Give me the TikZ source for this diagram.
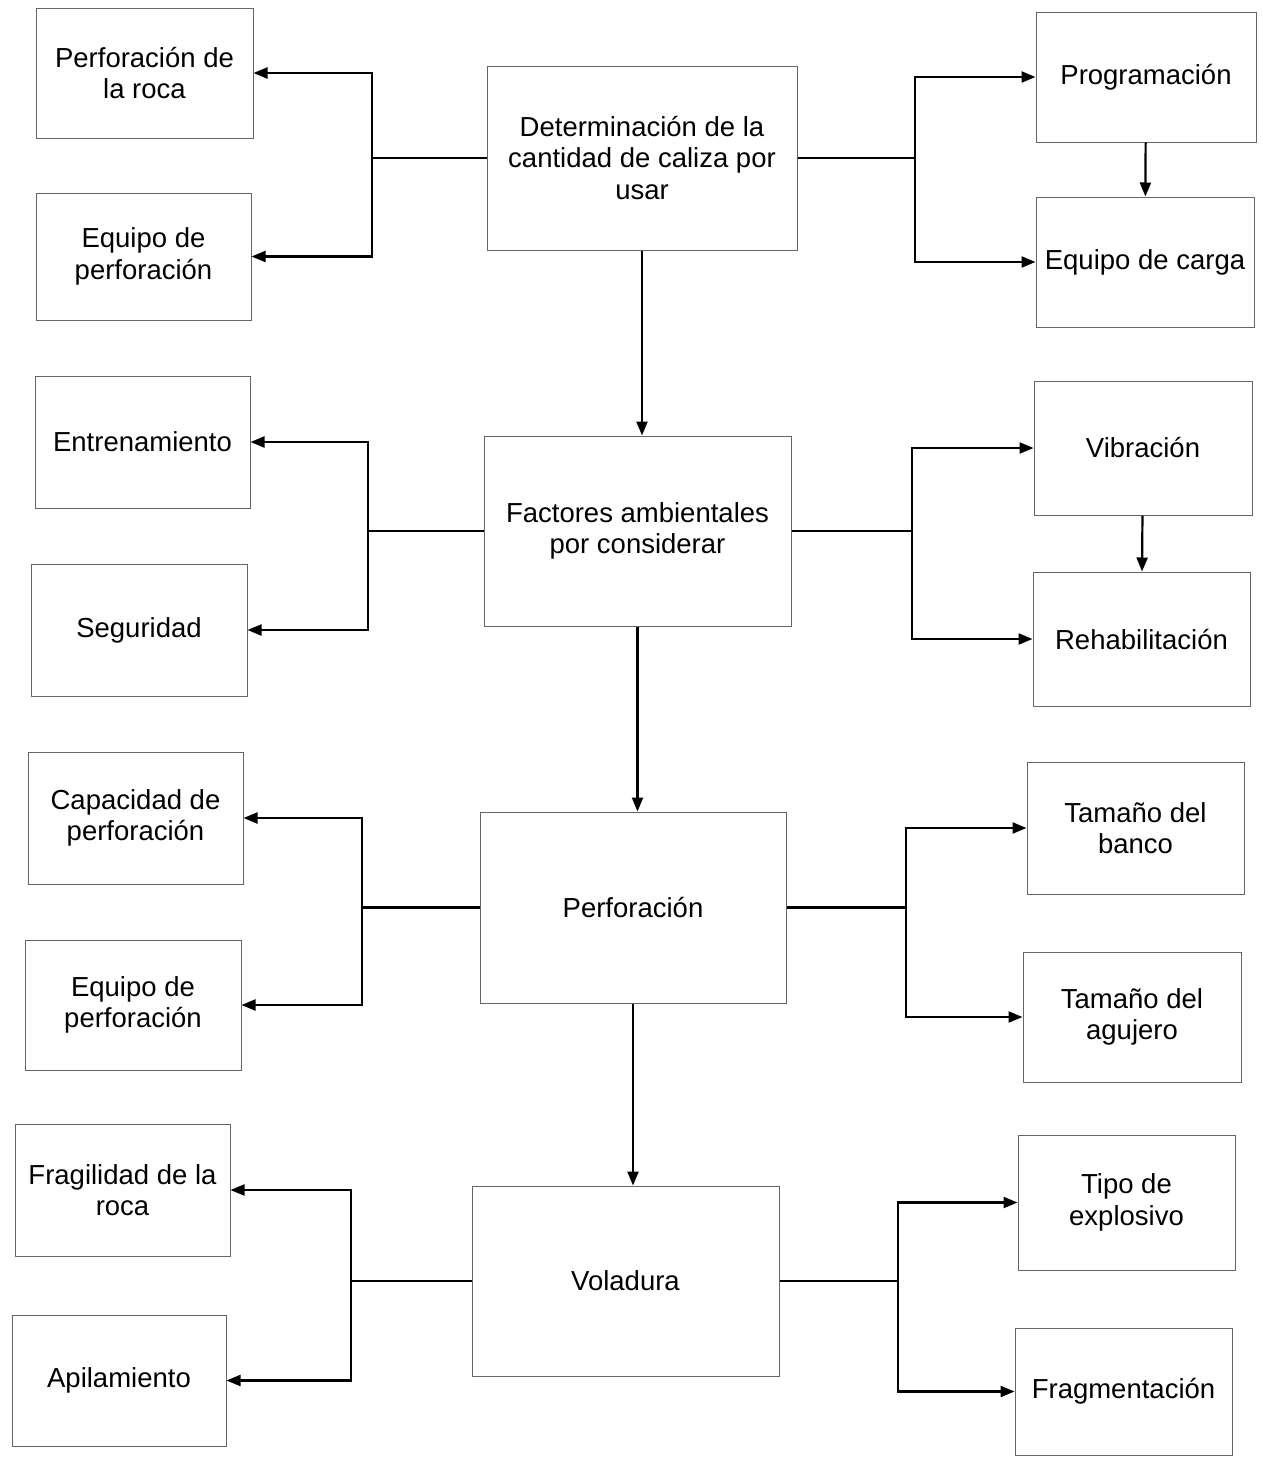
\documentclass[tikz,border=0pt]{standalone}
\usepackage{fontspec}
\setmainfont{Liberation Sans}
\usetikzlibrary{arrows.meta}
\begin{document}
\begin{tikzpicture}[x=1pt,y=-1pt,
  box/.style={draw=black!60, line width=1pt, rectangle, align=center, inner sep=0pt,
    font=\fontsize{27.5}{31.5}\selectfont},
  conn/.style={draw=black, line width=2.2pt},
  arr/.style={conn, -{Triangle[length=14pt,width=11pt]}}]
\useasboundingbox (0,0) rectangle (1262,1457);
% center column
\node[box, minimum width=310pt, minimum height=184pt] (B1) at (642,158) {Determinación de la\\cantidad de caliza por\\usar};
\node[box, minimum width=307pt, minimum height=190pt] (B2) at (637.5,531) {Factores ambientales\\por considerar};
\node[box, minimum width=306pt, minimum height=191pt] (B3) at (633,907.5) {Perforación};
\node[box, minimum width=307pt, minimum height=190pt] (B4) at (625.5,1281) {Voladura};
% left column
\node[box, minimum width=217pt, minimum height=130pt] (L1) at (144.5,73) {Perforación de\\la roca};
\node[box, minimum width=215pt, minimum height=127pt] (L2) at (143.5,256.5) {Equipo de\\perforación};
\node[box, minimum width=215pt, minimum height=132pt] (L3) at (142.5,442) {Entrenamiento};
\node[box, minimum width=216pt, minimum height=132pt] (L4) at (139,630) {Seguridad};
\node[box, minimum width=215pt, minimum height=132pt] (L5) at (135.5,818) {Capacidad de\\perforación};
\node[box, minimum width=216pt, minimum height=130pt] (L6) at (133,1005) {Equipo de\\perforación};
\node[box, minimum width=215pt, minimum height=132pt] (L7) at (122.5,1190) {Fragilidad de la\\roca};
\node[box, minimum width=214pt, minimum height=131pt] (L8) at (119,1380.5) {Apilamiento};
% right column
\node[box, minimum width=220pt, minimum height=130pt] (R1) at (1146,77) {Programación};
\node[box, minimum width=218pt, minimum height=130pt] (R2) at (1145,262) {Equipo de carga};
\node[box, minimum width=218pt, minimum height=134pt] (R3) at (1143,448) {Vibración};
\node[box, minimum width=217pt, minimum height=134pt] (R4) at (1141.5,639) {Rehabilitación};
\node[box, minimum width=217pt, minimum height=132pt] (R5) at (1135.5,828) {Tamaño del\\banco};
\node[box, minimum width=218pt, minimum height=130pt] (R6) at (1132,1017) {Tamaño del\\agujero};
\node[box, minimum width=217pt, minimum height=135pt] (R7) at (1126.5,1202.5) {Tipo de\\explosivo};
\node[box, minimum width=217pt, minimum height=127pt] (R8) at (1123.5,1391.5) {Fragmentación};
% junctions
\coordinate (J1L) at (372,158);
\coordinate (J1R) at (915,158);
\coordinate (J2L) at (368,531);
\coordinate (J2R) at (912,531);
\coordinate (J3L) at (362,907.5);
\coordinate (J3R) at (906,907.5);
\coordinate (J4L) at (351,1281);
\coordinate (J4R) at (898,1281);
% level 1
\draw[conn] (B1.west) -- (J1L);
\draw[arr] (J1L) |- (L1);
\draw[arr] (J1L) |- (L2);
\draw[conn] (B1.east) -- (J1R);
\draw[arr] (J1R) |- (R1);
\draw[arr] (J1R) |- (R2);
\draw[arr] (R1) -- (R2);
\draw[arr] (B1.south) -- (B1.south |- B2.north);
% level 2
\draw[conn] (B2.west) -- (J2L);
\draw[arr] (J2L) |- (L3);
\draw[arr] (J2L) |- (L4);
\draw[conn] (B2.east) -- (J2R);
\draw[arr] (J2R) |- (R3);
\draw[arr] (J2R) |- (R4);
\draw[arr] (R3) -- (R4);
\draw[arr] (B2.south) -- (B2.south |- B3.north);
% level 3
\draw[conn] (B3.west) -- (J3L);
\draw[arr] (J3L) |- (L5);
\draw[arr] (J3L) |- (L6);
\draw[conn] (B3.east) -- (J3R);
\draw[arr] (J3R) |- (R5);
\draw[arr] (J3R) |- (R6);
\draw[arr] (B3.south) -- (B3.south |- B4.north);
% level 4
\draw[conn] (B4.west) -- (J4L);
\draw[arr] (J4L) |- (L7);
\draw[arr] (J4L) |- (L8);
\draw[conn] (B4.east) -- (J4R);
\draw[arr] (J4R) |- (R7);
\draw[arr] (J4R) |- (R8);
\end{tikzpicture}
\end{document}
